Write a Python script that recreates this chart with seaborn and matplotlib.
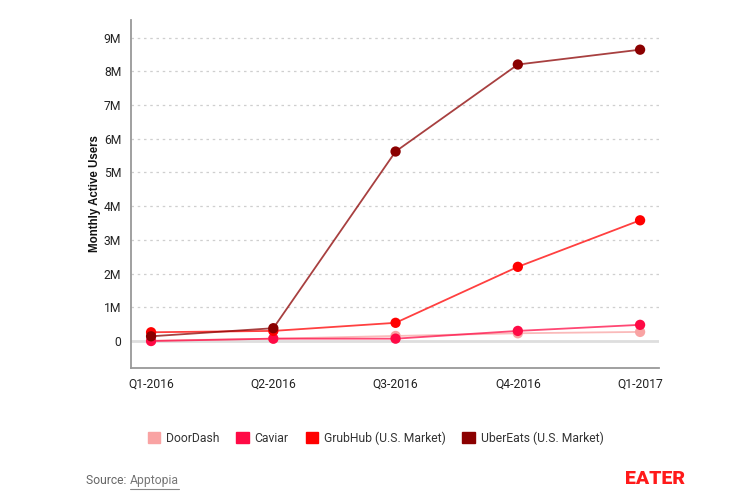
import matplotlib
matplotlib.use("Agg")
import matplotlib.pyplot as plt
import matplotlib.patches as mpatches
import pandas as pd
import seaborn as sns

# chart data
quarters = ["Q1-2016", "Q2-2016", "Q3-2016", "Q4-2016", "Q1-2017"]
doordash = [0.01, 0.07, 0.15, 0.23, 0.27]
caviar = [0.0, 0.07, 0.07, 0.30, 0.48]
grubhub = [0.26, 0.30, 0.54, 2.20, 3.58]
ubereats = [0.14, 0.38, 5.62, 8.20, 8.64]

apps = ["DoorDash", "Caviar", "GrubHub (U.S. Market)", "UberEats (U.S. Market)"]
colors = ["#f9a3a3", "#ff0a45", "#ff0000", "#8b0000"]

rows = []
for app, vals in zip(apps, [doordash, caviar, grubhub, ubereats]):
    for q, v in zip(quarters, vals):
        rows.append({"quarter": q, "users": v * 1e6, "app": app})
df = pd.DataFrame(rows)

sns.set_style("white")
plt.rcParams["font.family"] = ["Roboto", "DejaVu Sans"]

fig = plt.figure(figsize=(7.5, 5), dpi=100)
ax = fig.add_axes([0.1747, 0.264, 0.704, 0.696])

palette = dict(zip(apps, colors))
sns.lineplot(data=df, x="quarter", y="users", hue="app", palette=palette,
             linewidth=1.3, alpha=0.75, legend=False, ax=ax, sort=False)
sns.scatterplot(data=df, x="quarter", y="users", hue="app", palette=palette,
                s=55, linewidth=0, legend=False, ax=ax, zorder=5)

ax.set_xlim(-0.164, 4.155)
ax.set_ylim(-0.8e6, 9.52e6)
yt = [i * 1e6 for i in range(10)]
ax.set_yticks(yt)
ax.set_yticklabels(["0"] + [f"{i}M" for i in range(1, 10)])
ax.set_xlabel("")
ax.set_ylabel("Monthly Active Users", fontsize=8.3, fontweight="bold",
              family=["Liberation Sans", "DejaVu Sans"], color="#111111", labelpad=2)

for y in yt[1:]:
    ax.axhline(y, color="#cfcfcf", lw=0.9, ls=(0, (2, 3)), zorder=0)
ax.axhline(0, color="#dedede", lw=2, zorder=0)

for s in ["top", "right"]:
    ax.spines[s].set_visible(False)
for s in ["left", "bottom"]:
    ax.spines[s].set_color("#999999")
    ax.spines[s].set_linewidth(1.3)
ax.tick_params(axis="both", direction="out", length=4, width=1,
               color="#999999", labelsize=8.7, labelcolor="#222222", pad=3)

handles = [mpatches.Patch(color=c, label=a) for a, c in zip(apps, colors)]
fig.legend(handles=handles, loc="center", bbox_to_anchor=(0.501, 0.124), ncol=4,
           frameon=False, fontsize=8.7, handlelength=1.0, handleheight=1.0,
           handletextpad=0.5, columnspacing=1.4, labelcolor="#333333")

# footer
src = fig.text(0.115, 0.032, "Source: ", fontsize=8.7, color="#666666", va="baseline")
fig.canvas.draw()
bb = src.get_window_extent()
x2 = bb.x1 / 750
link = fig.text(x2, 0.032, "Apptopia", fontsize=8.7, color="#777777", va="baseline")
fig.canvas.draw()
lb = link.get_window_extent()
fig.add_artist(plt.Line2D([lb.x0 / 750, lb.x1 / 750], [0.023, 0.023],
                          color="#888888", lw=0.8, transform=fig.transFigure))

fig.text(0.913, 0.032, "EATER", fontsize=14, color="#ff1a1a", fontweight="black",
         ha="right", va="baseline", family=["Roboto", "DejaVu Sans"])

fig.savefig("out.png", dpi=100)
